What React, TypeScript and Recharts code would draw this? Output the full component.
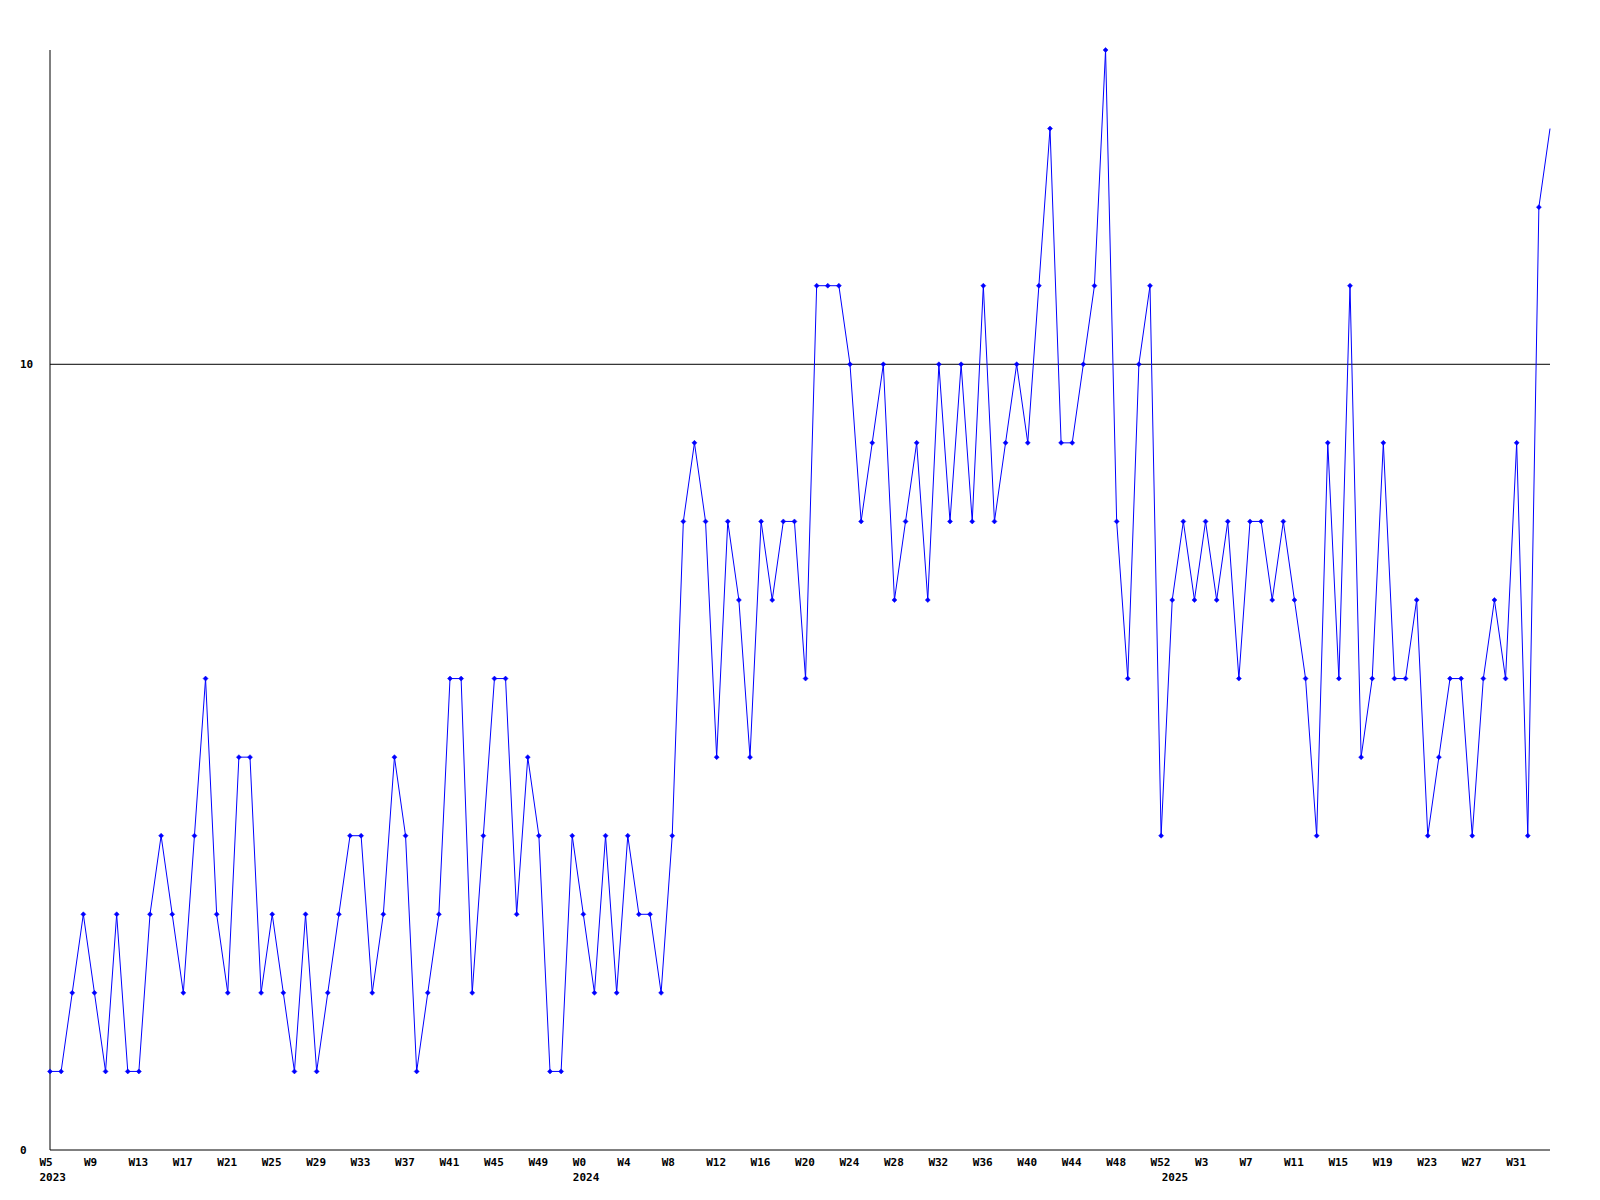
import { LineChart, Line, XAxis, YAxis, ReferenceLine } from "recharts";

// weekly counts, 2023 W5 -> 2025 W34
const counts = [
  1, 1, 2, 3, 2, 1, 3, 1, 1, 3,
  4, 3, 2, 4, 6, 3, 2, 5, 5, 2,
  3, 2, 1, 3, 1, 2, 3, 4, 4, 2,
  3, 5, 4, 1, 2, 3, 6, 6, 2, 4,
  6, 6, 3, 5, 4, 1, 1, 4, 3, 2,
  4, 2, 4, 3, 3, 2, 4, 8, 9, 8,
  5, 8, 7, 5, 8, 7, 8, 8, 6, 11,
  11, 11, 10, 8, 9, 10, 7, 8, 9, 7,
  10, 8, 10, 8, 11, 8, 9, 10, 9, 11,
  13, 9, 9, 10, 11, 14, 8, 6, 10, 11,
  4, 7, 8, 7, 8, 7, 8, 6, 8, 8,
  7, 8, 7, 6, 4, 9, 6, 11, 5, 6,
  9, 6, 6, 7, 4, 5, 6, 6, 4, 6,
  7, 6, 9, 4, 12, 13,
];

// week numbers per year (as printed on the axis)
const weeks2023 = Array.from({ length: 48 }, (_, k) => k + 5); // W5..W52
const weeks2024 = Array.from({ length: 53 }, (_, k) => k); // W0..W52
const weeks2025 = Array.from({ length: 35 }, (_, k) => k); // W0..W34

const years = [
  { year: "2023", weeks: weeks2023 },
  { year: "2024", weeks: weeks2024 },
  { year: "2025", weeks: weeks2025 },
];

const weekLabels: string[] = [];
const yearStart: Record<number, string> = {};
years.forEach((y) => {
  yearStart[weekLabels.length] = y.year;
  y.weeks.forEach((w) => weekLabels.push("W" + w));
});

const data = counts.map((v, i) => ({ i, week: weekLabels[i], value: v }));

const xTicks = data.filter((d) => d.i % 4 === 0 || yearStart[d.i]).map((d) => d.i);
const yTicks = [0, 10];

const font = "'DejaVu Sans Mono', monospace";

const WeekTick = (props: any) => {
  const { x, payload } = props;
  const i = payload.value;
  return (
    <g>
      {i % 4 === 0 && (
        <text x={x - 10.5} y={1166} textAnchor="start" fontFamily={font} fontWeight="bold" fontSize={11} fill="#000">
          {weekLabels[i]}
        </text>
      )}
      {yearStart[i] && (
        <text x={x - 10.5} y={1181} textAnchor="start" fontFamily={font} fontWeight="bold" fontSize={11} fill="#000">
          {yearStart[i]}
        </text>
      )}
    </g>
  );
};

const CountTick = (props: any) => {
  const { y, payload } = props;
  return (
    <text x={20} y={y + 4} textAnchor="start" fontFamily={font} fontWeight="bold" fontSize={11} fill="#000">
      {payload.value}
    </text>
  );
};

const Marker = (props: any) => {
  const { cx, cy, index } = props;
  if (index === counts.length - 1) return <g key={index} />;
  return (
    <path
      key={index}
      d={`M${cx - 2.5},${cy} L${cx},${cy - 2.5} L${cx + 2.5},${cy} L${cx},${cy + 2.5} Z`}
      fill="#0000ff"
      stroke="#0000ff"
      strokeWidth={0.5}
    />
  );
};

export default function App() {
  return (
    <div style={{ width: 1600, height: 1200, background: "#fff" }}>
      <style>{"body{margin:0}"}</style>
      <LineChart width={1600} height={1200} data={data} margin={{ top: 50, right: 50, bottom: 20, left: 0 }}>
        <XAxis
          dataKey="i"
          type="number"
          height={30}
          domain={[0, counts.length - 1]}
          ticks={xTicks}
          interval={0}
          tick={WeekTick}
          tickLine={false}
          axisLine={{ stroke: "#000", strokeWidth: 1 }}
        />
        <YAxis
          width={50}
          domain={[0, 14]}
          ticks={yTicks}
          interval={0}
          tick={CountTick}
          tickLine={false}
          axisLine={{ stroke: "#000", strokeWidth: 1 }}
        />
        <ReferenceLine y={10} stroke="#000" strokeWidth={1} />
        <Line
          type="linear"
          dataKey="value"
          stroke="#0000ff"
          strokeWidth={1}
          dot={Marker}
          activeDot={false}
          isAnimationActive={false}
        />
      </LineChart>
    </div>
  );
}
